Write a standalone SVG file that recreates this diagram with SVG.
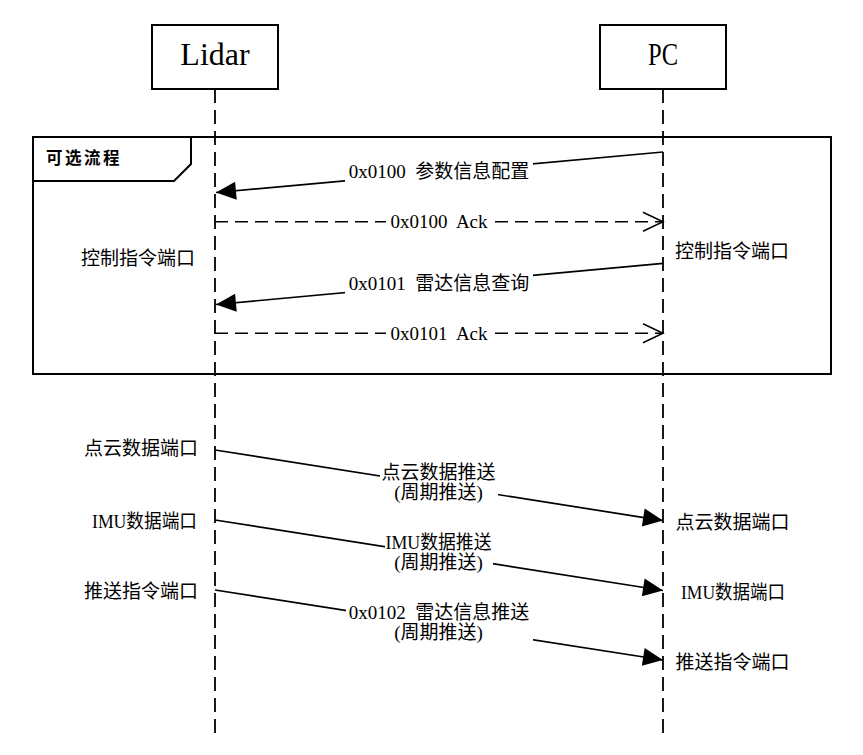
<svg xmlns="http://www.w3.org/2000/svg" width="863" height="755" viewBox="0 0 863 755">
<style>
.t{font-family:"Liberation Serif","Noto Sans CJK SC",sans-serif;font-size:19px;fill:#000}
.h{font-family:"Liberation Serif","Noto Sans CJK SC",serif;font-size:32px;fill:#000}
.tab{font-family:"Noto Sans CJK SC",sans-serif;font-size:16.5px;font-weight:bold;letter-spacing:2.5px;fill:#000}
.box{fill:#fff;stroke:#000;stroke-width:2}
.life{stroke:#000;stroke-width:1.8;stroke-dasharray:14 7;fill:none}
.msg{stroke:#000;stroke-width:1.7;fill:none}
.ack{stroke:#000;stroke-width:1.5;stroke-dasharray:13 7;fill:none}
.bg{fill:#fff;stroke:none}
.m{text-anchor:middle}
.e{text-anchor:end}
</style>
<defs>
<marker id="solid" markerUnits="userSpaceOnUse" markerWidth="20" markerHeight="18" refX="20" refY="9" orient="auto" overflow="visible">
<path d="M0,0 L20,9 L0,18 Z" fill="#000" stroke="none"/>
</marker>
<marker id="open" markerUnits="userSpaceOnUse" markerWidth="22" markerHeight="21" refX="20" refY="9.5" orient="auto" overflow="visible">
<path d="M0,0 L20,9.5 L0,19" fill="none" stroke="#000" stroke-width="1.5" stroke-dasharray="none"/>
</marker>
</defs>
<rect width="863" height="755" fill="#fff"/>

<g id="frame">
<rect x="33" y="137" width="798" height="237" fill="none" stroke="#000" stroke-width="2"/>
<path d="M33,181 L174,181 L191,164 L191,137" fill="none" stroke="#000" stroke-width="2"/>
<text class="tab" x="46" y="164">可选流程</text>
</g>

<g id="lidar">
<line class="life" x1="215" y1="89" x2="215" y2="737"/>
<rect class="box" x="152" y="25" width="126" height="64"/>
<text class="h m" x="215" y="65">Lidar</text>
</g>

<g id="pc">
<line class="life" x1="663" y1="89" x2="663" y2="737"/>
<rect class="box" x="600" y="25" width="126" height="64"/>
<text class="h m" x="663" y="65" textLength="30" lengthAdjust="spacingAndGlyphs">PC</text>
</g>

<g id="port-labels">
<text class="t e" x="195" y="265">控制指令端口</text>
<text class="t m" x="732" y="258">控制指令端口</text>
<text class="t e" x="198" y="455">点云数据端口</text>
<text class="t" x="92" y="528" textLength="105" lengthAdjust="spacingAndGlyphs">IMU数据端口</text>
<text class="t e" x="198" y="598">推送指令端口</text>
<text class="t m" x="732.5" y="528.5">点云数据端口</text>
<text class="t" x="681" y="598.5" textLength="104" lengthAdjust="spacingAndGlyphs">IMU数据端口</text>
<text class="t m" x="732.5" y="668.5">推送指令端口</text>
</g>

<g id="connectors">
<line class="msg" x1="663" y1="152" x2="216" y2="192.5" marker-end="url(#solid)"/>
<line class="ack" x1="215" y1="221.7" x2="663" y2="221.7" marker-end="url(#open)"/>
<line class="msg" x1="663" y1="263.3" x2="216" y2="304.5" marker-end="url(#solid)"/>
<line class="ack" x1="215" y1="333.3" x2="663" y2="333.3" marker-end="url(#open)"/>
<line class="msg" x1="215" y1="450" x2="663" y2="520.6" marker-end="url(#solid)"/>
<line class="msg" x1="215" y1="520" x2="663" y2="590.5" marker-end="url(#solid)"/>
<line class="msg" x1="215" y1="590" x2="663" y2="660" marker-end="url(#solid)"/>

<rect class="bg" x="345" y="161" width="188" height="22"/>
<text class="t m" x="439" y="177.5">0x0100&#160; 参数信息配置</text>
<rect class="bg" x="386" y="212" width="103" height="19"/>
<text class="t m" x="439" y="227.5">0x0100&#160; Ack</text>
<rect class="bg" x="345" y="272.5" width="188" height="22"/>
<text class="t m" x="439" y="289.5">0x0101&#160; 雷达信息查询</text>
<rect class="bg" x="386" y="324" width="103" height="19"/>
<text class="t m" x="439" y="339.5">0x0101&#160; Ack</text>

<rect class="bg" x="380" y="463" width="118" height="42"/>
<text class="t m" x="438.5" y="478.5">点云数据推送</text>
<text class="t m" x="438.5" y="499">(周期推送)</text>
<rect class="bg" x="385" y="533" width="108" height="42"/>
<text class="t" x="385.5" y="548.5" textLength="106" lengthAdjust="spacingAndGlyphs">IMU数据推送</text>
<text class="t m" x="438.5" y="569">(周期推送)</text>
<rect class="bg" x="346" y="603" width="187" height="42"/>
<text class="t m" x="439" y="618.5">0x0102&#160; 雷达信息推送</text>
<text class="t m" x="438.5" y="639">(周期推送)</text>
</g>
</svg>
